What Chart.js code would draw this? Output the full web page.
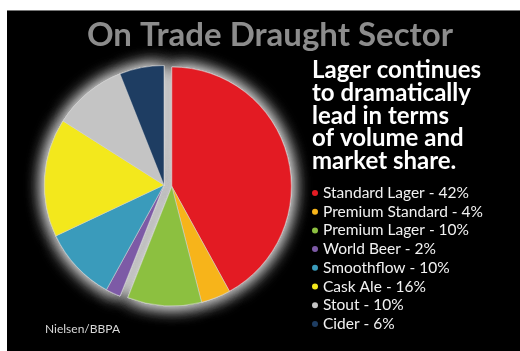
<!DOCTYPE html>
<html>
<head>
<meta charset="utf-8">
<script src="https://cdn.jsdelivr.net/npm/chart.js@4"></script>
<style>
  html, body { margin: 0; padding: 0; background: #fff; }
  #pie { display: block; }
</style>
</head>
<body>
<canvas id="pie" width="520" height="351"></canvas>
<script>
// data
const segments = ["Standard Lager", "Premium Standard", "Premium Lager", "World Beer",
                  "Smoothflow", "Cask Ale", "Stout", "Cider"];
const shares = [42, 4, 10, 2, 10, 16, 10, 6];
const exploded = [true, true, true, false, false, false, false, false];
const colours = ["#e31b23", "#f7b41a", "#8cc040", "#7d5aa6",
                 "#3a9bbb", "#f3e81c", "#c4c4c4", "#1e3d62"];
const headline = "On Trade Draught Sector";
const message = ["Lager continues", "to dramatically", "lead in terms",
                 "of volume and", "market share."];
const source = "Nielsen/BBPA";

const font = "Lato, 'Open Sans', sans-serif";

// black panel behind everything
const panel = {
  id: "panel",
  beforeDraw(chart) {
    const ctx = chart.ctx;
    ctx.save();
    ctx.fillStyle = "#fff";
    ctx.fillRect(0, 0, chart.width, chart.height);
    ctx.fillStyle = "#000";
    ctx.fillRect(7, 10, chart.width - 7, chart.height - 10);
    ctx.fillStyle = "#777";
    ctx.fillRect(7, 10, chart.width - 7, 1);
    ctx.restore();
  }
};

// pull the lager group out as one piece and give the pie a soft glow
const explode = {
  id: "explode",
  beforeDatasetsDraw(chart) {
    const meta = chart.getDatasetMeta(0);
    const group = meta.data.filter((a, i) => exploded[i]);
    const mid = (group[0].startAngle + group[group.length - 1].endAngle) / 2;
    const d = 8;
    this.dx = Math.cos(mid) * d;
    this.dy = Math.sin(mid) * d;
    group.forEach(a => { a.x += this.dx; a.y += this.dy; });

    const ctx = chart.ctx;
    ctx.save();
    ctx.shadowColor = "rgba(255,255,255,0.9)";
    ctx.shadowBlur = 18;
    meta.data.forEach(a => a.draw(ctx));
    meta.data.forEach(a => a.draw(ctx));
    ctx.restore();
  },
  afterDatasetsDraw(chart) {
    const meta = chart.getDatasetMeta(0);
    meta.data.forEach((a, i) => {
      if (exploded[i]) { a.x -= this.dx; a.y -= this.dy; }
    });
  }
};

// headline, message, key and source
const texts = {
  id: "texts",
  afterDraw(chart) {
    const ctx = chart.ctx;
    ctx.save();
    ctx.textBaseline = "alphabetic";

    ctx.fillStyle = "#8c8c8c";
    ctx.font = "bold 33px " + font;
    ctx.textAlign = "center";
    ctx.fillText(headline, 270, 46);

    ctx.textAlign = "left";
    ctx.fillStyle = "#fff";
    ctx.font = "bold 24px " + font;
    message.forEach((line, i) => ctx.fillText(line, 312, 78 + i * 22.8));

    ctx.font = "15.5px " + font;
    ctx.textBaseline = "middle";
    segments.forEach((name, i) => {
      const y = 193 + i * 18.7;
      ctx.fillStyle = colours[i];
      ctx.beginPath();
      ctx.arc(315, y, 3, 0, Math.PI * 2);
      ctx.fill();
      ctx.fillStyle = "#f2f2f2";
      ctx.fillText(name + " - " + shares[i] + "%", 323, y);
    });

    ctx.fillStyle = "#d8d8d8";
    ctx.font = "12px " + font;
    ctx.fillText(source, 45, 329);
    ctx.restore();
  }
};

new Chart(document.getElementById("pie"), {
  type: "pie",
  data: {
    labels: segments,
    datasets: [
      {
        data: shares,
        backgroundColor: colours,
        borderColor: "rgba(210,210,210,0.55)",
        borderWidth: 1,
        clip: false,
      },
    ],
  },
  options: {
    responsive: false,
    animation: false,
    layout: {
      padding: { left: 44, right: 236, top: 65, bottom: 46 },
    },
    plugins: {
      legend: { display: false },
      tooltip: { enabled: false },
    },
  },
  plugins: [panel, explode, texts],
});
</script>
</body>
</html>
